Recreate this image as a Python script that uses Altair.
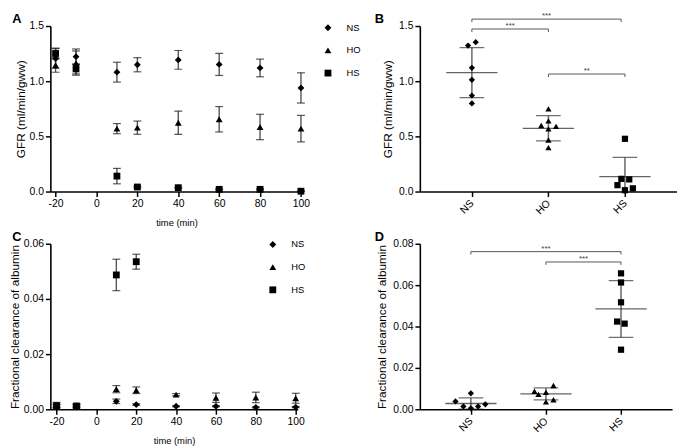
import altair as alt
import pandas as pd

FONT = "Liberation Sans"

groups = ["NS", "HO", "HS"]
shapes = ["diamond", "triangle-up", "square"]
group_pos = [1, 2, 3]

# ---------------- Panel A : GFR over time (mean +/- error) ----------------
times = [-20, -10, 10, 20, 40, 60, 80, 100]
gfr_ns = [1.205, 1.222, 1.082, 1.149, 1.193, 1.152, 1.120, 0.939]
gfr_ns_err = [0.090, 0.070, 0.090, 0.064, 0.085, 0.100, 0.080, 0.137]
gfr_ho = [1.146, 1.164, 0.570, 0.579, 0.623, 0.655, 0.585, 0.570]
gfr_ho_err = [0.065, 0.110, 0.046, 0.060, 0.105, 0.115, 0.115, 0.120]
gfr_hs = [1.251, 1.111, 0.140, 0.041, 0.035, 0.020, 0.020, 0.003]
gfr_hs_err = [0.050, 0.045, 0.070, 0.008, 0.006, 0.004, 0.004, 0.003]

# ---------------- Panel B : GFR per animal ----------------
b_ns = [1.323, 1.354, 1.121, 1.012, 0.870, 0.798]
b_ns_dx = [-0.05, 0.05, 0.0, 0.0, 0.0, 0.0]
b_ho = [0.749, 0.640, 0.599, 0.591, 0.568, 0.467, 0.398]
b_ho_dx = [0.0, 0.0, -0.094, 0.10, 0.0, 0.0, 0.0]
b_hs = [0.478, 0.115, 0.110, 0.058, 0.012, 0.029]
b_hs_dx = [0.0, -0.047, 0.056, -0.098, 0.0, 0.103]
b_mean = [1.078, 0.573, 0.135]
b_sd = [0.227, 0.114, 0.174]
b_br_left = [1, 1, 2]
b_br_right = [2.95, 2, 3]
b_br_y = [1.5625, 1.473, 1.065]
b_br_label = ["***", "***", "**"]
b_br_tail = 0.027

# ---------------- Panel C : fractional clearance of albumin over time ----------------
fca_ns = [0.0012, 0.0012, 0.0029, 0.0017, 0.0011, 0.0011, 0.0007, 0.0008]
fca_ns_err = [0.0005, 0.0004, 0.0008, 0.0003, 0.0002, 0.0002, 0.0002, 0.0002]
fca_ho = [0.0013, 0.0013, 0.0073, 0.0069, 0.0053, 0.0042, 0.0043, 0.0040]
fca_ho_err = [0.0005, 0.0004, 0.0013, 0.0012, 0.0004, 0.0017, 0.0019, 0.0018]
fca_hs_times = [-20, -10, 10, 20]
fca_hs = [0.0013, 0.0012, 0.0487, 0.0535]
fca_hs_err = [0.0012, 0.0008, 0.0057, 0.0027]

# ---------------- Panel D : fractional clearance per animal ----------------
d_ns = [0.0077, 0.0038, 0.0024, 0.0014, 0.0014, 0.0005]
d_ns_dx = [0.0, -0.205, 0.192, -0.10, 0.096, 0.0]
d_ho = [0.0115, 0.0087, 0.0072, 0.0082, 0.0036, 0.0046]
d_ho_dx = [0.10, -0.153, -0.10, 0.0, 0.0, 0.10]
d_hs = [0.0657, 0.0613, 0.0517, 0.0424, 0.0414, 0.0288]
d_hs_dx = [0.0, 0.0, 0.0, -0.052, 0.048, 0.0]
d_mean = [0.0028, 0.0074, 0.0485]
d_sd = [0.0027, 0.0029, 0.0137]
d_br_left = [1, 2]
d_br_right = [3, 3]
d_br_y = [0.0762, 0.0712]
d_br_label = ["***", "***"]
d_br_tail = 0.0014

panel_letters = ["A", "B", "C", "D"]

shape_scale = alt.Scale(domain=groups, range=shapes)


def time_frame(tlists, vlists, elists):
    rows = []
    for g, ts, vs, es in zip(groups, tlists, vlists, elists):
        for t, v, e in zip(ts, vs, es):
            rows.append({"group": g, "time": t, "v": v, "lo": v - e, "hi": v + e})
    return pd.DataFrame(rows)


def scatter_frame(vlists, dxlists):
    rows = []
    for g, p, vs, dxs in zip(groups, group_pos, vlists, dxlists):
        for v, dx in zip(vs, dxs):
            rows.append({"group": g, "xc": p + dx, "v": v})
    return pd.DataFrame(rows)


def summary_frame(means, sds):
    return pd.DataFrame({"group": groups, "xc": group_pos, "v": means,
                         "lo": [m - s for m, s in zip(means, sds)],
                         "hi": [m + s for m, s in zip(means, sds)]})


def bracket_frame(lefts, rights, ys, labels, tail):
    return pd.DataFrame({"x1": lefts, "x2": rights, "y": ys, "yt": [y - tail for y in ys],
                         "xm": [(a + b) / 2 for a, b in zip(lefts, rights)], "lab": labels})


def letter_layer(letter, dx, dy):
    return alt.Chart(pd.DataFrame({"letter": [letter]})).mark_text(
        font=FONT, fontSize=13, fontWeight="bold", color="black", align="center", baseline="middle"
    ).encode(x=alt.value(dx), y=alt.value(dy), text="letter:N")


def time_panel(df, ydomain, yvalues, yfmt, ytitle, width, height, xdomain, legx, legy, letter):
    def X(f="time"):
        return alt.X(f"{f}:Q", scale=alt.Scale(domain=xdomain, nice=False, zero=False),
                     axis=alt.Axis(values=[-20, 0, 20, 40, 60, 80, 100], title="time (min)",
                                   labelExpr="'' + datum.value",
                                   titleFontSize=9.5, titlePadding=9))

    def Y(f):
        return alt.Y(f"{f}:Q", scale=alt.Scale(domain=ydomain, nice=False, zero=False),
                     axis=alt.Axis(values=yvalues, format=yfmt, title=ytitle,
                                   titleFontSize=12, titlePadding=2))

    base = alt.Chart(df)
    err = base.mark_rule(color="#555555", strokeWidth=1.4).encode(x=X(), y=Y("lo"), y2="hi:Q")
    cap_lo = base.mark_tick(orient="horizontal", size=8, thickness=1.2, color="#111111").encode(x=X(), y=Y("lo"))
    cap_hi = base.mark_tick(orient="horizontal", size=8, thickness=1.2, color="#111111").encode(x=X(), y=Y("hi"))
    pts = base.mark_point(filled=True, size=48, opacity=1, color="black").encode(
        x=X(), y=Y("v"),
        shape=alt.Shape("group:N", scale=shape_scale,
                        legend=alt.Legend(orient="none", legendX=legx, legendY=legy, title=None,
                                          labelFont=FONT, labelFontSize=9.5, labelColor="black",
                                          symbolSize=48, symbolFillColor="black",
                                          symbolStrokeColor="black", symbolStrokeWidth=0,
                                          rowPadding=12, labelOffset=14)))
    return alt.layer(err, cap_lo, cap_hi, pts, letter_layer(letter, -34, -7)).properties(
        width=width, height=height)


def group_panel(dfp, dfs, dfb, ydomain, yvalues, yfmt, ytitle, width, height, letter):
    def X(f="xc"):
        return alt.X(f"{f}:Q", scale=alt.Scale(domain=[0.32, 3.68], nice=False, zero=False),
                     axis=alt.Axis(values=group_pos, title=None, labelAngle=-45,
                                   labelAlign="right", labelBaseline="middle", labelPadding=5,
                                   labelExpr="datum.value == 1 ? 'NS' : datum.value == 2 ? 'HO' : 'HS'"))

    def Y(f):
        return alt.Y(f"{f}:Q", scale=alt.Scale(domain=ydomain, nice=False, zero=False),
                     axis=alt.Axis(values=yvalues, format=yfmt, title=ytitle,
                                   titleFontSize=12, titlePadding=4))

    s = alt.Chart(dfs)
    vline = s.mark_rule(color="#666666", strokeWidth=1.5, clip=True).encode(x=X(), y=Y("lo"), y2="hi:Q")
    cap_lo = s.mark_tick(orient="horizontal", size=25, thickness=1.3, color="#333333", clip=True).encode(x=X(), y=Y("lo"))
    cap_hi = s.mark_tick(orient="horizontal", size=25, thickness=1.3, color="#333333", clip=True).encode(x=X(), y=Y("hi"))
    mean = s.mark_tick(orient="horizontal", size=52, thickness=1.3, color="#222222").encode(x=X(), y=Y("v"))
    pts = alt.Chart(dfp).mark_point(filled=True, size=40, opacity=1, color="black").encode(
        x=X(), y=Y("v"), shape=alt.Shape("group:N", scale=shape_scale, legend=None))
    b = alt.Chart(dfb)
    bh = b.mark_rule(color="#555555", strokeWidth=1).encode(x=X("x1"), x2="x2:Q", y=Y("y"))
    bl = b.mark_rule(color="#555555", strokeWidth=1).encode(x=X("x1"), y=Y("y"), y2="yt:Q")
    br = b.mark_rule(color="#555555", strokeWidth=1).encode(x=X("x2"), y=Y("y"), y2="yt:Q")
    bt = b.mark_text(dy=1, fontSize=8, font=FONT, color="#444444", baseline="bottom").encode(
        x=X("xm"), y=Y("y"), text="lab:N")
    return alt.layer(vline, cap_lo, cap_hi, mean, pts, bh, bl, br, bt, letter_layer(letter, -41, -7)).properties(
        width=width, height=height)


dfA = time_frame([times] * 3, [gfr_ns, gfr_ho, gfr_hs], [gfr_ns_err, gfr_ho_err, gfr_hs_err])
dfC = time_frame([times, times, fca_hs_times], [fca_ns, fca_ho, fca_hs], [fca_ns_err, fca_ho_err, fca_hs_err])

A = time_panel(dfA, [0, 1.5], [0, 0.5, 1.0, 1.5], ".1f", "GFR (ml/min/gww)", 256, 168,
               [-22.55, 100.8], 277, -3, panel_letters[0])
C = time_panel(dfC, [0, 0.06], [0, 0.02, 0.04, 0.06], ".2f", "Fractional clearance of albumin", 251, 168,
               [-23.1, 101], 221, -4, panel_letters[2])

B = group_panel(scatter_frame([b_ns, b_ho, b_hs], [b_ns_dx, b_ho_dx, b_hs_dx]),
                summary_frame(b_mean, b_sd),
                bracket_frame(b_br_left, b_br_right, b_br_y, b_br_label, b_br_tail),
                [0, 1.5], [0, 0.5, 1.0, 1.5], ".1f", "GFR (ml/min/gww)", 261, 168, panel_letters[1])
D = group_panel(scatter_frame([d_ns, d_ho, d_hs], [d_ns_dx, d_ho_dx, d_hs_dx]),
                summary_frame(d_mean, d_sd),
                bracket_frame(d_br_left, d_br_right, d_br_y, d_br_label, d_br_tail),
                [0, 0.08], [0, 0.02, 0.04, 0.06, 0.08], ".2f", "Fractional clearance of albumin", 256, 168,
                panel_letters[3])

chart = alt.concat(A, B, C, D, columns=2, spacing={"row": 53, "column": 119}, bounds="flush").resolve_scale(
    x="independent", y="independent", shape="independent").resolve_legend(shape="independent").properties(
    padding=0).configure_view(stroke=None).configure_axis(
    domainColor="black", domainWidth=1.6, tickColor="black", tickWidth=1.5, tickSize=5,
    labelFont=FONT, labelFontSize=10.5, labelColor="black", labelPadding=2,
    titleFont=FONT, titleColor="black", titleFontWeight="normal", grid=False)

chart.save("out.html", embed_options={"renderer": "svg", "actions": False})
